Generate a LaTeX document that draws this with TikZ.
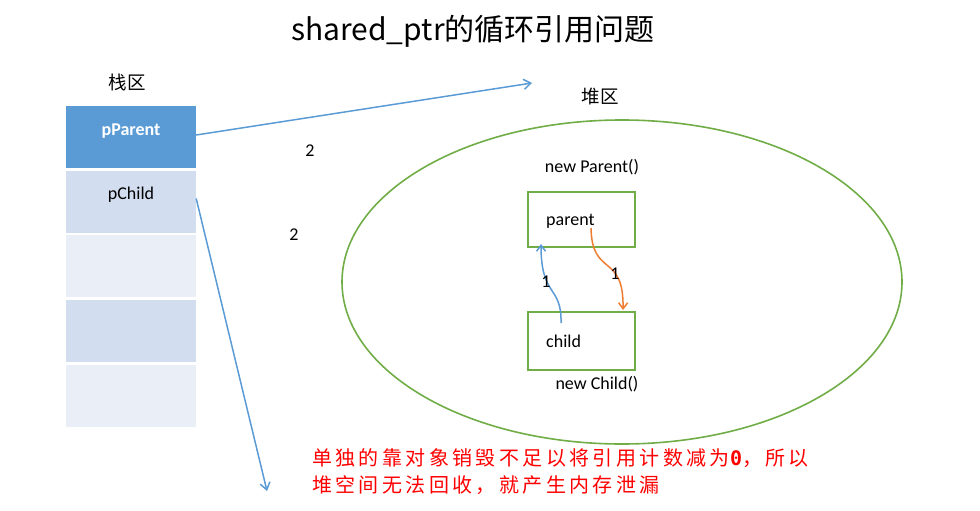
\documentclass[tikz,border=0pt]{standalone}
\usepackage{fontspec}
\setmainfont{Carlito}
\newfontfamily\cjkf{Noto Sans CJK SC}
\newfontfamily\cjkred[LetterSpace=17]{Noto Sans CJK SC}
\newfontfamily\monof{DejaVu Sans Mono}
\usetikzlibrary{shapes.geometric,arrows.meta}
\definecolor{darkblue}{HTML}{5B9BD5}
\definecolor{midblue}{HTML}{D2DEEF}
\definecolor{lightblue}{HTML}{EAEFF7}
\definecolor{linkblue}{HTML}{5B9BD5}
\definecolor{heapgreen}{HTML}{70AD47}
\definecolor{refor}{HTML}{ED7D31}
\tikzset{
  cell/.style={rectangle, minimum width=130pt, minimum height=62pt, inner sep=0pt},
  objbox/.style={rectangle, draw=heapgreen, line width=2pt, minimum width=107pt, inner sep=0pt},
  lbl/.style={inner sep=0pt, font=\fontsize{18}{21}\selectfont},
  ptrarrow/.style={draw=linkblue, line width=1.5pt, -{Straight Barb[length=7pt,width=10pt]}},
}
\begin{document}
\begin{tikzpicture}[x=1pt,y=-1pt]
\useasboundingbox (0,0) rectangle (980,511);
% title
\node[inner sep=0pt, font=\cjkf\fontsize{30}{35}\selectfont] (title) at (473,31) {shared\_ptr的循环引用问题};
% stack
\node[inner sep=0pt, font=\cjkf\fontsize{18.5}{21}\selectfont] (stk) at (127,82) {栈区};
\node[cell, fill=darkblue] (pP) at (131,137) {};
\node[cell, fill=midblue] (pC) at (131,201.5) {};
\node[cell, fill=lightblue] (r3) at (131,266) {};
\node[cell, fill=midblue] (r4) at (131,330.5) {};
\node[cell, fill=lightblue] (r5) at (131,395.5) {};
\node[lbl, text=white, font=\bfseries\fontsize{18}{21}\selectfont] (pPt) at (131,131) {pParent};
\node[lbl] (pCt) at (131,195) {pChild};
% heap
\node[inner sep=0pt, font=\cjkf\fontsize{18.5}{21}\selectfont] (hp) at (600,97) {堆区};
\node[ellipse, draw=heapgreen, line width=1.6pt, minimum width=560pt, minimum height=324pt, inner sep=0pt] (heap) at (622,282) {};
\node[lbl] (np) at (592,167) {new Parent()};
\node[objbox, minimum height=55pt] (pbox) at (581.5,219.5) {};
\node[lbl, anchor=west] (ptxt) at (546,221) {parent};
\node[objbox, minimum height=58pt] (cbox) at (581.5,341) {};
\node[lbl, anchor=west] (ctxt) at (546,341) {child};
\node[lbl] (nc) at (597,384) {new Child()};
% pointer arrows
\coordinate (e1) at (532,83);
\coordinate (e2) at (267,491);
\draw[ptrarrow] (pP.east) ++(0,-2) -- (e1);
\draw[ptrarrow] (pC.east) ++(0,-3) -- (e2);
\node[lbl] (n2a) at (310,151) {2};
\node[lbl] (n2b) at (294,235) {2};
% inner references
\coordinate (cs) at (561,323);
\coordinate (ce) at (541,244);
\coordinate (ps) at (591,228);
\coordinate (pe) at (623,310);
\draw[draw=linkblue, line width=1.5pt, -{Straight Barb[length=6pt,width=9pt]}] (cs) .. controls (562,285) and (541,298) .. (ce);
\draw[draw=refor, line width=1.5pt, -{Straight Barb[length=6pt,width=9pt]}] (ps) .. controls (592,278) and (624,252) .. (pe);
\node[lbl] (n1a) at (546,282) {1};
\node[lbl] (n1b) at (615,274) {1};
% note
\node[anchor=north west, inner sep=0pt, align=left, text=red, font=\cjkred\fontsize{20}{27}\selectfont] (note) at (312,448) {单独的靠对象销毁不足以将引用计数减为{\monof\bfseries 0}，所以\\堆空间无法回收，就产生内存泄漏};
\end{tikzpicture}
\end{document}
